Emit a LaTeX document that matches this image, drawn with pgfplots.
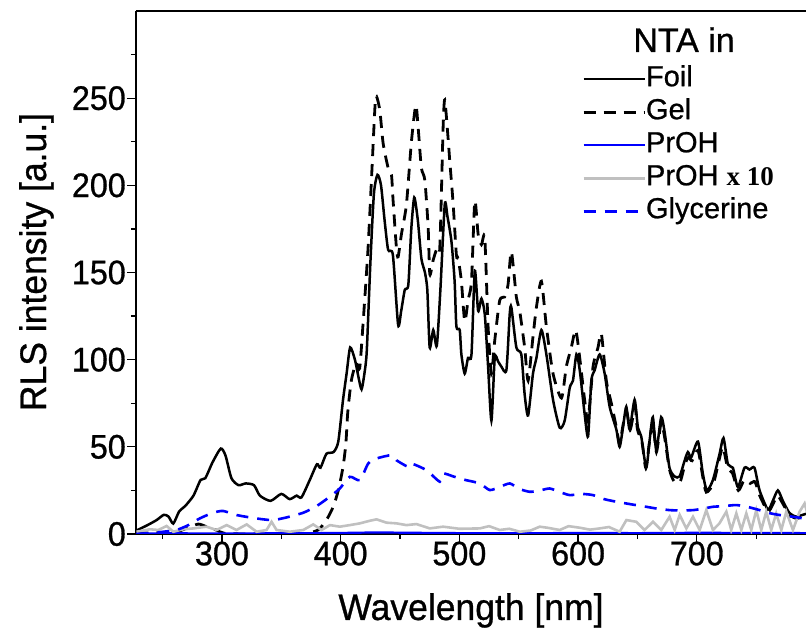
\documentclass[border=0pt]{standalone}
\usepackage{fontspec}
\setmainfont{Liberation Sans}[FakeBold=0.8]
\newfontfamily\tickfont{Liberation Sans}[FakeStretch=0.95,FakeBold=0.8]
\newfontfamily\labfont{Liberation Sans}[FakeStretch=0.96,FakeBold=0.8]
\newfontfamily\serifbf{Liberation Serif Bold}
\usepackage{pgfplots}
\pgfplotsset{compat=1.18}
\definecolor{proh}{RGB}{0,0,255}
\definecolor{grayline}{RGB}{192,192,192}
\begin{document}
\begin{tikzpicture}
\begin{axis}[
  name=ax, scale only axis, width=670pt, height=523pt,
  xmin=227.6, xmax=792, ymin=0, ymax=300,
  axis x line*=box, axis y line*=left,
  xtick={300,400,...,700}, minor xtick={250,350,...,750},
  ytick={0,50,...,250}, minor ytick={25,75,...,275},
  xtick pos=left,
  tick align=outside,
  major tick length=9pt, minor tick length=5pt,
  every tick/.style={black, line width=1.2pt},
  axis line style={line width=1.3pt},
  tick label style={font=\tickfont\fontsize{34}{34}\selectfont},
  /pgf/number format/assume math mode=true,
  yticklabel style={inner xsep=1pt},
  xticklabel style={yshift=5pt},
  xlabel={Wavelength [nm]}, ylabel={RLS intensity [a.u.]},
  label style={font=\labfont\fontsize{37}{37}\selectfont},
  xlabel style={at={(axis description cs:0.5,-0.1644)}, anchor=base},
  ylabel style={at={(axis description cs:-0.1343,0.52)}, anchor=base},
  legend style={at={(axis description cs:0.6657,0.8967)}, anchor=north west, draw=none, fill=none,
    inner sep=0pt, row sep=5pt, font=\fontsize{29}{29}\selectfont,
    nodes={inner sep=0pt, text height=21pt, text depth=7pt},
    /tikz/every even column/.append style={column sep=5pt}},
  legend cell align=left,
  legend image code/.code={\draw[#1] (0pt,0pt) -- (61pt,0pt);},
]
\addplot[black, line width=2.5pt, smooth, tension=0.4] coordinates {
(228,2)(237,5)(245,8)(251,11)(255,10)(259,6)(264,13)(269,16)(276,22)(282,31)(286,32)(292,41)(299,49)(303,45)(308,32)(314,28)(320,29)(327,28)(332,22)(341,19)(350,23)(357,20)(363,22)(367,21)(374,31)(380,40)(383,38)(388,46)(394,47)(398,53)(402,77)(405,92)(408,107)(412,100)(415,90)(417.6,83)(420,92)(422,105)(425,155)(428,195)(431,206)(434,200)(437,180)(440,163)(444,160)(448.4,120)(451,128)(454,140)(457,143)(459.5,175)(462,193)(465,180)(468,158)(471,150)(473,140)(475,107)(478,117)(481,108)(484,140)(487.7,189)(490,182)(493.3,168)(496,145)(497.5,119)(500.3,117)(501.7,103)(504.5,92)(507.3,101)(510.2,103)(513,151)(515.8,128)(518.6,135)(521.4,126)(524.2,96)(527,65)(529.8,101)(532.6,99)(535.4,96)(539.6,94)(542.4,126)(543.8,130)(548,107)(552.2,103)(555,80)(557.9,68)(562,92)(564.9,101)(569.1,117)(573.3,103)(578.9,77)(584.5,61)(588.7,65)(593,84)(595.7,88)(598.6,103)(601.4,94)(605.5,69)(608.4,56)(611.2,88)(614,94)(618.2,103)(622.4,92)(626.6,73)(632.2,60)(635,50)(637.8,61)(640.6,73)(643.4,60)(647.6,77)(650.4,61)(653.2,56)(657.4,38)(660.3,54)(663,67)(665.9,48)(670,67)(673,58)(677,38)(681.3,33)(685.5,33)(689.7,42)(692.5,47)(695.3,44)(701,53)(705,35)(708.5,25)(713.6,31)(719.2,46)(722.5,55)(726.2,40)(730.4,38)(734.6,27)(740.2,38)(744.4,37)(748.6,38)(752.9,25)(759.9,14)(764,19)(768.3,25)(772.5,19)(778.1,12)(783.7,10)(789.3,11)(794,12)
};
\addlegendentry{Foil}
\addplot[black, line width=2.8pt, dash pattern=on 12pt off 8pt, smooth, tension=0.4] coordinates {
(228,0.4)(240,0.6)(251,0.8)(262,1.3)(270,3.2)(280,5.7)(287,4.2)(295,2.3)(302,0.4)(318,0)(335,0)(363,0)(371,0.3)(381,2.3)(388,8)(393.7,15.6)(398,25)(402,38.5)(404.4,52)(406,70)(409,88)(413,98)(416,95)(419,122)(423,163)(426,204)(428.9,245)(430.2,251)(433,243)(435.8,224)(440,210)(442.8,206)(444.2,191)(447,164)(448.4,159)(451.2,172)(455.4,189)(459.6,225)(463.3,246)(465.3,233)(468,210)(470.9,203)(473.7,176)(475.1,149)(477.9,157)(480.7,163)(483.5,164)(486.3,233)(487.7,249)(490.5,227)(491.9,214)(494.7,190)(497.5,160)(499,158)(501.7,145)(504.5,122)(507.3,134)(510.2,145)(513,191)(515.8,172)(518.6,166)(521.4,170)(524.2,119)(527,92)(529.8,111)(534,134)(538.2,136)(541,143)(543.8,162)(548,136)(550.8,128)(555,107)(557.9,88)(562,113)(564.9,130)(569.1,145)(573.3,119)(578.9,92)(586,78)(590.1,96)(594.3,107)(598,117)(601.4,101)(605.5,77)(608.4,65)(612.6,96)(616.8,107)(619.6,115)(623.8,88)(628,75)(632,62)(635,52)(638,63)(641,70)(644,60)(648,73)(650,60)(654,52)(657,38)(660,52)(663,64)(666,47)(670,64)(673,55)(677,37)(681,30)(686,30)(690,40)(693,44)(696,42)(701,48)(705,33)(708,24)(714,29)(719,43)(722,50)(726,38)(730,35)(735,25)(740,31)(745,29)(749,30)(753,22)(760,13)(764,17)(768,22)(772,18)(778,11)(784,9)(790,10)(794,11)
};
\addlegendentry{Gel}
\addplot[proh, line width=2.2pt] coordinates {
(228,0.3)(260,0.4)(300,0.3)(350,0.4)(400,0.6)(430,0.9)(460,0.7)(500,0.5)(550,0.4)(600,0.6)(650,0.5)(700,0.7)(750,0.6)(794,0.5)
};
\addlegendentry{PrOH}
\addplot[grayline, line width=2.6pt] coordinates {
(228,1.3)(239.4,2.7)(246.4,2.3)(253.4,4.6)(259,1.3)(267.4,2.7)(275.9,3.2)(287,4.2)(295.5,2.3)(304,5.1)(312.3,2.3)(320.8,5.5)(329.2,1.3)(337.6,2.3)(341.8,7)(346,2.3)(357.2,1.3)(368.5,2.3)(376.9,5.5)(383.9,2.3)(391,5.1)(399.3,4.2)(407.7,5.1)(416.2,6.1)(424.6,7.6)(430.2,8.4)(438.6,6.5)(447,6.1)(455.4,5.1)(463.9,5.7)(475,3.2)(486.3,4.2)(500,3.0)(517.2,3.2)(525,4.5)(534,2.3)(542,3)(550.9,1.3)(560,2)(567.7,4.2)(575,3.5)(584.5,2.3)(592,4.5)(601.4,3.6)(610,2.5)(618.2,3.2)(626,4)(635,1.3)(640.7,8)(649.1,7)(656,2.3)(663.1,7)(670.1,2.3)(677.1,9.9)(681.4,2.3)(685.6,10.9)(691.2,3.2)(696.8,9.9)(702.4,2.3)(708,13.7)(713.6,2.3)(719,6)(724.9,12.8)(729,2.3)(733.3,11.8)(737.5,2.3)(741.7,11.8)(745.9,2.3)(750.1,13.7)(754.3,2.3)(758.5,12.8)(762.7,2.3)(766.9,11.8)(771.2,2.3)(775.4,12.8)(781,2.3)(786.6,12.8)(790.8,17.5)(794,10)
};
\addlegendentry{PrOH\hspace{8pt}{\serifbf\fontsize{27}{27}\selectfont x 10}}
\addplot[proh, line width=2.6pt, dash pattern=on 12pt off 9pt, smooth, tension=0.4] coordinates {
(228,0)(240,0.5)(250.6,1.3)(261.8,2.3)(271.7,5.1)(281.5,9)(292.7,12.2)(301,13.2)(312.3,10.9)(323.6,9.5)(334.8,8.4)(343.2,8)(354.4,9.5)(368.5,12.2)(379.7,16)(390.9,21.4)(399.3,26.1)(407.7,32.8)(416.2,30.9)(423.2,40.4)(430.2,43.3)(442.8,45.2)(447,42.3)(456.9,38.5)(459.7,40.4)(472.3,36.6)(483.5,30)(486.3,34.7)(495,33)(505,31)(517.2,29)(525.6,25.2)(534,27)(542.5,29)(550,26)(559.3,24.2)(568,25)(576.1,26.1)(585,24)(593,22.3)(603,23)(612.6,22.3)(622,20)(632.3,18.5)(645,17)(657.5,15.6)(667,14.5)(677.2,13.7)(686,13.5)(696.8,13.7)(705,14.5)(713.6,15.6)(723,16)(733.3,16.6)(743,15.5)(752.9,13.7)(761,12)(769.7,10.9)(780,10)(789.4,9)(794,8.5)
};
\addlegendentry{Glycerine}
\node[font=\fontsize{34}{34}\selectfont, anchor=base] at (axis description cs:0.818,0.9216) {NTA in};
\end{axis}
\pgfresetboundingbox
\path ([shift={(-136pt,-100pt)}]ax.south west) rectangle ([shift={(0pt,11pt)}]ax.north east);
\end{tikzpicture}
\end{document}
